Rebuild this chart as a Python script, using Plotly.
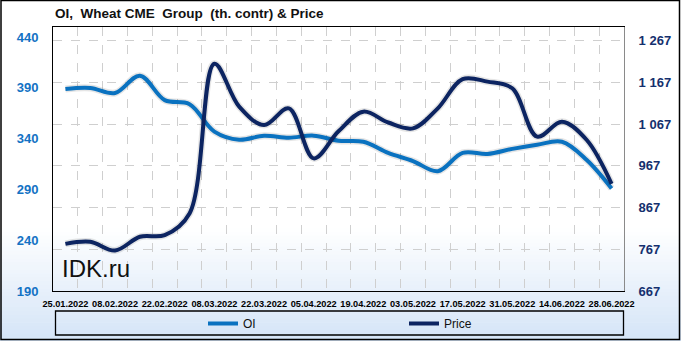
import plotly.graph_objects as go

# ---- data ----
dates = ["2022-01-25", "2022-02-01", "2022-02-08", "2022-02-15", "2022-02-22",
         "2022-03-01", "2022-03-08", "2022-03-15", "2022-03-22", "2022-03-29",
         "2022-04-05", "2022-04-12", "2022-04-19", "2022-04-26", "2022-05-03",
         "2022-05-10", "2022-05-17", "2022-05-24", "2022-05-31", "2022-06-07",
         "2022-06-14", "2022-06-21", "2022-06-28"]
oi = [389, 390, 385, 402, 378, 374, 347, 339, 343, 341, 343, 338, 337, 326,
      318, 308, 326, 325, 330, 334, 337, 319, 291]
price = [780, 785, 764, 797, 801, 853, 1212, 1109, 1065, 1105, 985, 1050, 1097,
         1071, 1057, 1105, 1175, 1169, 1153, 1037, 1073, 1029, 924]
x_tick_dates = dates[::2]
oi_ticks = [190, 240, 290, 340, 390, 440]
price_ticks = [667, 767, 867, 967, 1067, 1167, 1267]
title_text = "OI,\u00a0 Wheat CME\u00a0 Group\u00a0 (th. contr) &amp; Price"

# ---- geometry helpers (pixel -> paper) ----
W, H = 681, 341
L, R, T, B = 53, 57, 27, 50
PW, PH = W - L - R, H - T - B


def px_x(p):
    return (p - L) / PW


def px_y(p):
    return (H - B - p) / PH


C_OI = "#0a72c0"
C_PR = "#0c2461"

fig = go.Figure()

# soft shadows
fig.add_trace(go.Scatter(x=dates, y=oi, mode="lines", line=dict(color="rgba(0,0,0,0.10)", width=7, shape="spline"),
                         hoverinfo="skip", showlegend=False))
fig.add_trace(go.Scatter(x=dates, y=price, mode="lines", yaxis="y2",
                         line=dict(color="rgba(0,0,0,0.10)", width=7, shape="spline"),
                         hoverinfo="skip", showlegend=False))

fig.add_trace(go.Scatter(x=dates, y=oi, name="OI", mode="lines",
                         line=dict(color=C_OI, width=4, shape="spline")))
fig.add_trace(go.Scatter(x=dates, y=price, name="Price", mode="lines", yaxis="y2",
                         line=dict(color=C_PR, width=4, shape="spline")))

shapes = []
# gradient background
g0, g1 = 228, 341
n = 30
c_end = (212, 228, 247)
for i in range(n):
    y0 = g0 + (g1 - g0) * i / n
    y1 = g0 + (g1 - g0) * (i + 1) / n + 0.6
    t = (i + 0.5) / n
    col = tuple(int(round(255 + (c - 255) * t)) for c in c_end)
    shapes.append(dict(type="rect", xref="paper", yref="paper", layer="below",
                       x0=px_x(0), x1=px_x(W), y0=px_y(y1), y1=px_y(y0),
                       line=dict(width=0), fillcolor="rgb(%d,%d,%d)" % col))
# legend box
shapes.append(dict(type="rect", xref="paper", yref="paper",
                   x0=px_x(55.5), x1=px_x(623.5), y0=px_y(335), y1=px_y(311),
                   line=dict(color="black", width=1.3), fillcolor="rgba(0,0,0,0)"))
# outer border
shapes.append(dict(type="rect", xref="paper", yref="paper",
                   x0=px_x(1), x1=px_x(679.5), y0=px_y(339.5), y1=px_y(0.5),
                   line=dict(color="black", width=1.5), fillcolor="rgba(0,0,0,0)"))

annotations = [
    dict(text="<b>" + title_text + "</b>", xref="paper", yref="paper",
         x=px_x(53), y=px_y(14), xanchor="left", yanchor="middle", showarrow=False,
         font=dict(family="Liberation Sans", size=13.5, color="#111111")),
    dict(text="IDK.ru", xref="paper", yref="paper", x=px_x(96), y=px_y(268),
         xanchor="center", yanchor="middle", showarrow=False,
         font=dict(family="Liberation Sans", size=24, color="#111111")),
]

fig.update_layout(
    width=W, height=H,
    margin=dict(l=L, r=R, t=T, b=B, pad=0, autoexpand=False),
    paper_bgcolor="white",
    plot_bgcolor="rgba(0,0,0,0)",
    separators=". ",
    shapes=shapes,
    annotations=annotations,
    showlegend=True,
    legend=dict(orientation="h", x=px_x(203), y=px_y(323.5), xanchor="left", yanchor="middle",
                bgcolor="rgba(0,0,0,0)", borderwidth=0, entrywidth=156,
                font=dict(family="Liberation Sans", size=12, color="#111111")),
    xaxis=dict(
        type="date",
        range=["2022-01-21 12:00", "2022-07-01 12:00"],
        tickvals=x_tick_dates, tickformat="%d.%m.%Y",
        tickfont=dict(family="Liberation Sans", size=9.2, color="black", weight="bold"),
        showgrid=False, zeroline=False,
        showline=True, linecolor="black", linewidth=1, mirror=True,
        ticks="", ticklabelstandoff=4,
        minor=dict(tick0="2022-01-28 12:00", dtick=7 * 86400000, showgrid=True,
                   gridcolor="#cfcfcf", griddash="dash", gridwidth=1, ticklen=0),
    ),
    yaxis=dict(
        range=[190, 450], tickvals=oi_ticks, showgrid=False, zeroline=False,
        showline=True, linecolor="black", linewidth=1, ticks="", ticklabelstandoff=11,
        tickfont=dict(family="Liberation Sans", size=13, color="#1372c4", weight="bold"),
    ),
    yaxis2=dict(
        range=[667, 1300], tickvals=price_ticks, tickformat=",d", overlaying="y", side="right",
        showgrid=True, gridcolor="#cfcfcf", griddash="dash", gridwidth=1, zeroline=False,
        showline=True, linecolor="#8a8a8a", linewidth=1, ticks="", ticklabelstandoff=11,
        tickfont=dict(family="Liberation Sans", size=13, color="#14306e", weight="bold"),
    ),
)

fig.write_html("out.html")
